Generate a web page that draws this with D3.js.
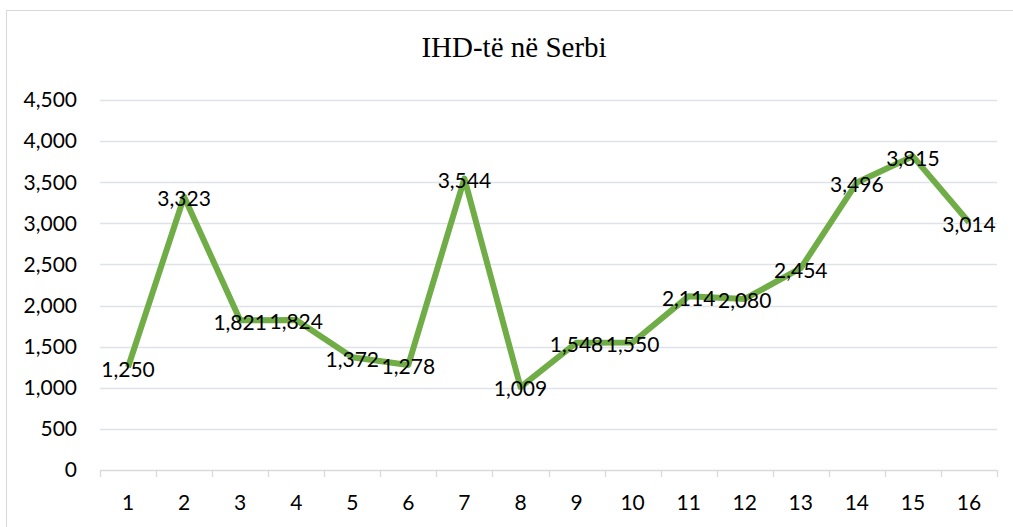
<!DOCTYPE html>
<html lang="sq">
<head>
    <meta charset="UTF-8">
    <title>IHD-të në Serbi</title>
    <style>
        body { margin: 0; background: #fff; }
        svg { display: block; }
        .tick-label, .data-label { font-family: Lato, "Open Sans", sans-serif; font-size: 21px; fill: #000; }
        .title { font-family: "Liberation Serif", "Times New Roman", serif; font-size: 29px; fill: #000; }
    </style>
</head>
<body>
<div id="chart"></div>
<script src="https://d3js.org/d3.v7.min.js"></script>
<script>
    // data
    const categories = ["1", "2", "3", "4", "5", "6", "7", "8", "9", "10", "11", "12", "13", "14", "15", "16"];
    const values = [1250, 3323, 1821, 1824, 1372, 1278, 3544, 1009, 1548, 1550, 2114, 2080, 2454, 3496, 3815, 3014];
    const yTicks = [0, 500, 1000, 1500, 2000, 2500, 3000, 3500, 4000, 4500];

    const W = 1013, H = 527;
    const plot = { left: 100, right: 997, top: 100, bottom: 470 };

    const svg = d3.select("#chart").append("svg")
        .attr("width", W)
        .attr("height", H);

    // chart frame (runs off the right and bottom edges)
    svg.append("rect")
        .attr("x", 6.5).attr("y", 10.5)
        .attr("width", W).attr("height", H)
        .attr("fill", "none")
        .attr("stroke", "#d9d9d9");

    svg.append("text")
        .attr("class", "title")
        .attr("x", 514).attr("y", 57)
        .attr("text-anchor", "middle")
        .text("IHD-të në Serbi");

    const x = d3.scaleBand().domain(categories).range([plot.left, plot.right]);
    const y = d3.scaleLinear().domain([0, 4500]).range([plot.bottom, plot.top]);

    // gridlines
    svg.append("g").selectAll("line")
        .data(yTicks.filter(d => d > 0))
        .join("line")
        .attr("x1", plot.left).attr("x2", plot.right)
        .attr("y1", d => Math.round(y(d)) + 0.5).attr("y2", d => Math.round(y(d)) + 0.5)
        .attr("stroke", "#dfe2e8")
        .attr("stroke-width", 1.3);

    // y labels
    svg.append("g").selectAll("text")
        .data(yTicks)
        .join("text")
        .attr("class", "tick-label")
        .attr("x", 77)
        .attr("y", d => y(d))
        .attr("dy", "0.35em")
        .attr("text-anchor", "end")
        .text(d => d3.format(",")(d));

    // x axis line and tick marks
    const xAxis = svg.append("g");
    xAxis.append("line")
        .attr("x1", plot.left).attr("x2", plot.right)
        .attr("y1", plot.bottom + 0.5).attr("y2", plot.bottom + 0.5)
        .attr("stroke", "#d9d9d9")
        .attr("stroke-width", 1.3);
    const bounds = categories.map(c => x(c)).concat([plot.right]);
    xAxis.selectAll(".tm")
        .data(bounds)
        .join("line")
        .attr("class", "tm")
        .attr("x1", d => Math.round(d) + 0.5).attr("x2", d => Math.round(d) + 0.5)
        .attr("y1", plot.bottom).attr("y2", plot.bottom + 7)
        .attr("stroke", "#d9d9d9")
        .attr("stroke-width", 1.3);
    xAxis.selectAll("text")
        .data(categories)
        .join("text")
        .attr("class", "tick-label")
        .attr("x", d => x(d) + x.bandwidth() / 2)
        .attr("y", 503)
        .attr("dy", "0.35em")
        .attr("text-anchor", "middle")
        .text(d => d);

    // line
    const line = d3.line()
        .x((d, i) => x(categories[i]) + x.bandwidth() / 2)
        .y(d => y(d));

    svg.append("path")
        .datum(values)
        .attr("d", line)
        .attr("fill", "none")
        .attr("stroke", "#70ad47")
        .attr("stroke-width", 6)
        .attr("stroke-linejoin", "round");

    // data labels centred on the points
    svg.append("g").selectAll("text")
        .data(values)
        .join("text")
        .attr("class", "data-label")
        .attr("x", (d, i) => x(categories[i]) + x.bandwidth() / 2)
        .attr("y", d => y(d) + 2)
        .attr("dy", "0.35em")
        .attr("text-anchor", "middle")
        .text(d => d3.format(",")(d));
</script>
</body>
</html>
